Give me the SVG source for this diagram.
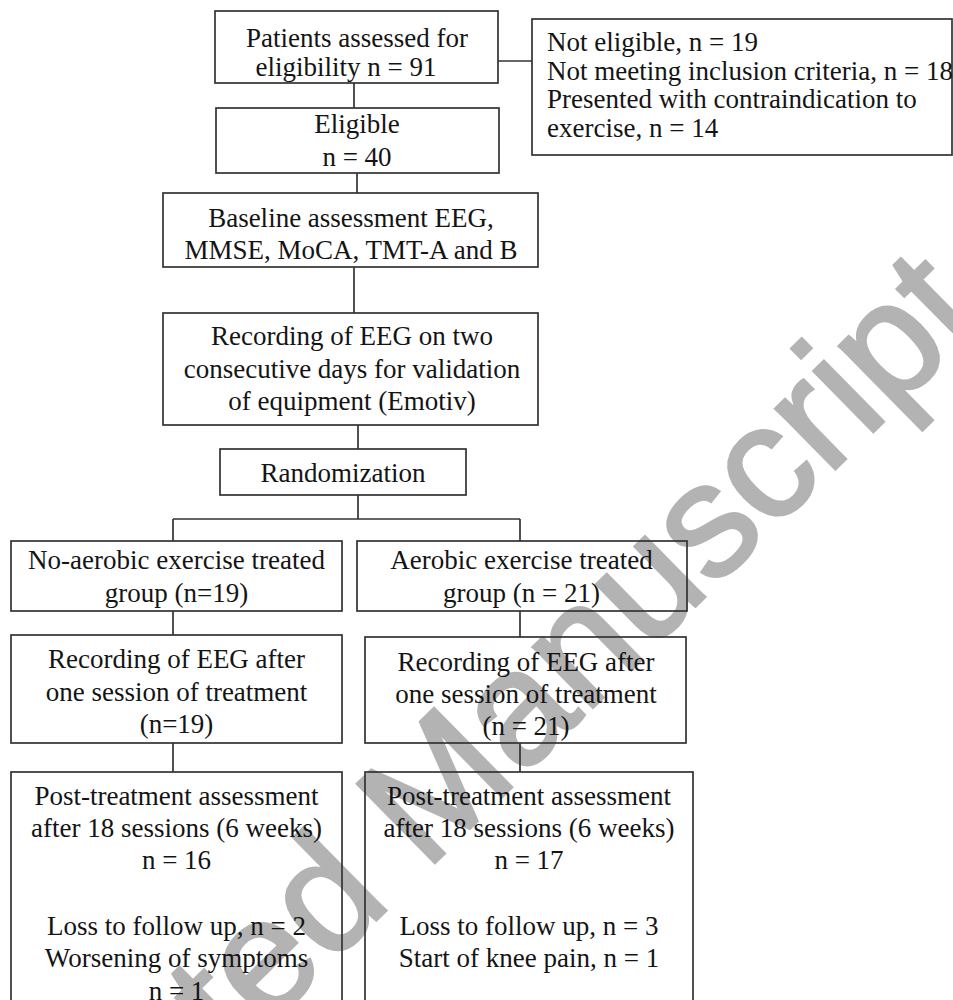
<svg xmlns="http://www.w3.org/2000/svg" width="953" height="1000" viewBox="0 0 953 1000">
<style>
.box{fill:none;stroke:#333333;stroke-width:1.7}
.ln{fill:none;stroke:#333333;stroke-width:1.7}
text{font-family:"Liberation Serif","Times New Roman",serif;font-size:27px;fill:#141414}
.c{text-anchor:middle}
.wm{font-family:"Liberation Sans",Arial,sans-serif;font-size:161px;fill:#b3b3b3;stroke:#b3b3b3;stroke-width:3;text-anchor:end}
</style>
<rect width="953" height="1000" fill="#ffffff"/>
<g id="watermark">
<text class="wm" transform="translate(987,320) rotate(-44.5)">Accepted Manuscript</text>
</g>
<g id="connectors">
<path class="ln" d="M498,61 H532"/>
<path class="ln" d="M354,83 V108"/>
<path class="ln" d="M357,173 V193"/>
<path class="ln" d="M354,267 V313"/>
<path class="ln" d="M358,425 V449"/>
<path class="ln" d="M358,495 V519 M173,519 H520 M173,519 V541 M520,519 V541"/>
<path class="ln" d="M173,611 V635"/>
<path class="ln" d="M520,611 V637"/>
<path class="ln" d="M173,743 V772"/>
<path class="ln" d="M520,743 V772"/>
</g>
<g id="assessed">
<rect class="box" x="215" y="11" width="283" height="72"/>
<text class="c" x="357" y="47">Patients assessed for</text>
<text class="c" x="346" y="76">eligibility n = 91</text>
</g>
<g id="not-eligible">
<rect class="box" x="532" y="19" width="420" height="136"/>
<text x="547" y="51">Not eligible, n = 19</text>
<text x="547" y="80">Not meeting inclusion criteria, n = 18</text>
<text x="547" y="108">Presented with contraindication to</text>
<text x="547" y="137">exercise, n = 14</text>
</g>
<g id="eligible">
<rect class="box" x="216" y="108" width="283" height="65"/>
<text class="c" x="357" y="133">Eligible</text>
<text class="c" x="357" y="166">n = 40</text>
</g>
<g id="baseline">
<rect class="box" x="163" y="193" width="375" height="74"/>
<text class="c" x="351" y="227">Baseline assessment EEG,</text>
<text class="c" x="351" y="259">MMSE, MoCA, TMT-A and B</text>
</g>
<g id="recording-validation">
<rect class="box" x="163" y="313" width="375" height="112"/>
<text class="c" x="352" y="345">Recording of EEG on two</text>
<text class="c" x="352" y="378">consecutive days for validation</text>
<text class="c" x="352" y="410">of equipment (Emotiv)</text>
</g>
<g id="randomization">
<rect class="box" x="220" y="449" width="246" height="46"/>
<text class="c" x="343" y="482">Randomization</text>
</g>
<g id="no-aerobic-group">
<rect class="box" x="11" y="541" width="331" height="70"/>
<text class="c" x="176.5" y="569">No-aerobic exercise treated</text>
<text class="c" x="176.5" y="602">group (n=19)</text>
</g>
<g id="aerobic-group">
<rect class="box" x="357" y="541" width="330" height="70"/>
<text class="c" x="521.5" y="569">Aerobic exercise treated</text>
<text class="c" x="521.5" y="602">group (n = 21)</text>
</g>
<g id="no-aerobic-recording">
<rect class="box" x="11" y="635" width="331" height="108"/>
<text class="c" x="176.5" y="668">Recording of EEG after</text>
<text class="c" x="176.5" y="701">one session of treatment</text>
<text class="c" x="176.5" y="733">(n=19)</text>
</g>
<g id="aerobic-recording">
<rect class="box" x="365" y="637" width="321" height="106"/>
<text class="c" x="526" y="671">Recording of EEG after</text>
<text class="c" x="526" y="703">one session of treatment</text>
<text class="c" x="526" y="735">(n = 21)</text>
</g>
<g id="no-aerobic-post">
<rect class="box" x="11" y="772" width="331" height="240"/>
<text class="c" x="176.5" y="805">Post-treatment assessment</text>
<text class="c" x="176.5" y="837">after 18 sessions (6 weeks)</text>
<text class="c" x="176.5" y="869">n = 16</text>
<text class="c" x="176.5" y="935">Loss to follow up, n = 2</text>
<text class="c" x="176.5" y="967">Worsening of symptoms</text>
<text class="c" x="176.5" y="1000">n = 1</text>
</g>
<g id="aerobic-post">
<rect class="box" x="365" y="772" width="328" height="240"/>
<text class="c" x="529" y="805">Post-treatment assessment</text>
<text class="c" x="529" y="837">after 18 sessions (6 weeks)</text>
<text class="c" x="529" y="869">n = 17</text>
<text class="c" x="529" y="935">Loss to follow up, n = 3</text>
<text class="c" x="529" y="967">Start of knee pain, n = 1</text>
</g>
</svg>
